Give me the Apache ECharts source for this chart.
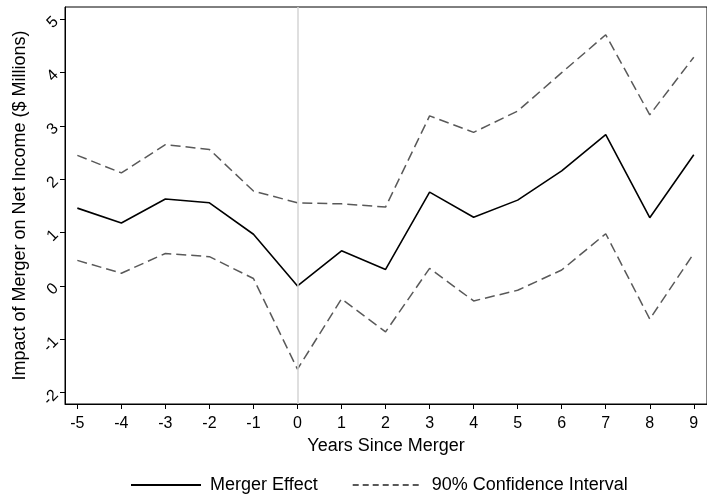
<!DOCTYPE html>
<html>
<head>
<meta charset="utf-8">
<script src="https://cdn.jsdelivr.net/npm/echarts@6/dist/echarts.min.js"></script>
<style>html,body{margin:0;padding:0;background:#fff;}#c{width:707px;height:497px;}</style>
</head>
<body>
<div id="c"></div>
<script>
const years = [-5, -4, -3, -2, -1, 0, 1, 2, 3, 4, 5, 6, 7, 8, 9];
const effect = [1.46, 1.18, 1.63, 1.56, 0.97, 0.0, 0.66, 0.31, 1.76, 1.29, 1.61, 2.16, 2.84, 1.28, 2.46];
const ciUpper = [2.45, 2.12, 2.65, 2.56, 1.78, 1.56, 1.54, 1.48, 3.19, 2.88, 3.28, 4.00, 4.71, 3.21, 4.29];
const ciLower = [0.48, 0.24, 0.61, 0.55, 0.14, -1.56, -0.24, -0.86, 0.33, -0.28, -0.08, 0.30, 0.98, -0.62, 0.61];
const xTicks = [-5, -4, -3, -2, -1, 0, 1, 2, 3, 4, 5, 6, 7, 8, 9];
const yTicks = [-2, -1, 0, 1, 2, 3, 4, 5];

const font = 'Liberation Sans, Arial, Helvetica, sans-serif';
const pairs = arr => years.map((y, i) => [y, arr[i]]);

const chart = echarts.init(document.getElementById('c'), null, {renderer: 'canvas'});
chart.setOption({
  animation: false,
  backgroundColor: '#fff',
  textStyle: {fontFamily: font},
  grid: {left: 65, right: -3, top: 7, bottom: 93, show: true, borderColor: '#000', borderWidth: 1, backgroundColor: 'transparent'},
  xAxis: {
    type: 'value', min: -5.28, max: 9.30,
    name: 'Years Since Merger', nameLocation: 'middle', nameGap: 31,
    nameTextStyle: {fontSize: 18, color: '#000', fontFamily: font},
    axisLine: {show: true, onZero: false, lineStyle: {color: '#000', width: 1}},
    axisTick: {show: true, customValues: xTicks, length: 5, lineStyle: {color: '#000'}},
    axisLabel: {customValues: xTicks, fontSize: 16, color: '#000', margin: 12, fontFamily: font},
    splitLine: {show: false}
  },
  yAxis: {
    type: 'value', min: -2.2125, max: 5.231,
    name: 'Impact of Merger on Net Income ($ Millions)', nameLocation: 'middle', nameGap: 36, nameRotate: 90,
    nameTextStyle: {fontSize: 18, color: '#000', fontFamily: font},
    axisLine: {show: true, onZero: false, lineStyle: {color: '#000', width: 1}},
    axisTick: {show: true, customValues: yTicks, length: 5, lineStyle: {color: '#000'}},
    axisLabel: {customValues: yTicks, fontSize: 16, color: '#000', margin: 9, rotate: 45, fontFamily: font},
    splitLine: {show: false}
  },
  legend: {
    left: 125, top: 471, itemWidth: 70, itemHeight: 18, itemGap: 34,
    textStyle: {fontSize: 18, color: '#000', fontFamily: font, padding: [0, 0, 0, 4]},
    itemStyle: {opacity: 0},
    data: [
      {name: 'Merger Effect', itemStyle: {opacity: 0}},
      {name: '90% Confidence Interval', itemStyle: {opacity: 0}, lineStyle: {type: [6, 4]}}
    ]
  },
  series: [
    {
      type: 'line', name: 'ref', data: [], z: 1, silent: true,
      markLine: {
        symbol: 'none', silent: true, label: {show: false},
        lineStyle: {color: '#d4d4d4', width: 1.5, type: 'solid'},
        data: [{xAxis: 0}]
      }
    },
    {
      type: 'line', name: '90% Confidence Interval', data: pairs(ciUpper), z: 2,
      symbol: 'none', lineStyle: {color: '#595959', width: 1.5, type: [10, 5]},
      itemStyle: {color: '#595959'}
    },
    {
      type: 'line', name: '90% Confidence Interval', data: pairs(ciLower), z: 2,
      symbol: 'none', lineStyle: {color: '#595959', width: 1.5, type: [10, 5]},
      itemStyle: {color: '#595959'}
    },
    {
      type: 'line', name: 'Merger Effect', data: pairs(effect), z: 3,
      symbol: 'none', lineStyle: {color: '#000', width: 1.6},
      itemStyle: {color: '#000'}
    }
  ]
});
</script>
</body>
</html>
